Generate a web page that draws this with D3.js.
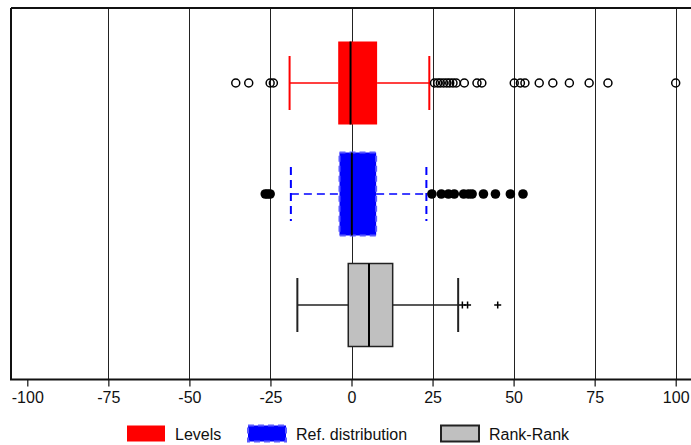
<!DOCTYPE html>
<html><head><meta charset="utf-8">
<script src="https://cdn.jsdelivr.net/npm/d3@7"></script>
<style>body{margin:0;background:#fff}svg{display:block;font-family:"Liberation Sans",Arial,sans-serif}</style>
</head><body><svg id="c" width="691" height="445"></svg>
<script>
const categories = ["Levels", "Ref. distribution", "Rank-Rank"];
const whiskerLow  = [-19.1, -18.7, -16.7];
const q1          = [-4.1, -3.7, -1.0];
const medians     = [-0.3, 0.1, 5.4];
const q3          = [7.9, 7.6, 12.7];
const whiskerHigh = [24.0, 23.1, 32.9];
const outliersLevels = [-35.7, -31.7, -25.1, -24.1, 25.6, 26.6, 27.4, 28.4, 29.4, 30.3, 31.3, 32.3, 34.8, 38.7, 40.2, 50.2, 52.1, 53.5, 57.9, 62.1, 67.2, 73.3, 79.1, 100.0];
const outliersRef = [-26.6, -25.9, -25.1, 24.8, 27.7, 29.9, 31.7, 34.6, 36.1, 37.2, 40.7, 44.4, 49.0, 52.9];
const outliersRank = [34.2, 35.8, 45.1];
const xTicks = [-100, -75, -50, -25, 0, 25, 50, 75, 100];
const gridVals = [-75, -50, -25, 0, 25, 50, 75, 100];

const svg = d3.select("#c");
const x = d3.scaleLinear().domain([-100, 100]).range([27.3, 675.7]);
const y = d3.scalePoint().domain(categories).range([83, 305]);
const plotTop = 8, plotBottom = 379.5, plotLeft = 11;
const boxH = 83, capH = 27;

// grid
svg.append("g").selectAll("line").data(gridVals).join("line")
  .attr("x1", d => Math.round(x(d)) + 0.5).attr("x2", d => Math.round(x(d)) + 0.5)
  .attr("y1", plotTop).attr("y2", plotBottom).attr("stroke", "#222").attr("stroke-width", 1);

// frame
svg.append("line").attr("x1", plotLeft).attr("x2", 691).attr("y1", plotTop).attr("y2", plotTop).attr("stroke", "#111").attr("stroke-width", 2);
svg.append("line").attr("x1", plotLeft).attr("x2", plotLeft).attr("y1", plotTop).attr("y2", plotBottom).attr("stroke", "#111").attr("stroke-width", 2);

const styles = [
  {fill: "#ff0000", stroke: "none", sw: 0, dash: null, wcol: "#ff0000", wdash: null},
  {fill: "#0000ff", stroke: "#5a5aff", sw: 2, dash: "6,4", wcol: "#0000ff", wdash: "8,5"},
  {fill: "#c0c0c0", stroke: "#222", sw: 1.5, dash: null, wcol: "#222", wdash: null}
];

categories.forEach((c, i) => {
  const cy = y(c), s = styles[i];
  const g = svg.append("g");
  const wl = (x1, x2) => g.append("line").attr("x1", x1).attr("x2", x2).attr("y1", cy).attr("y2", cy)
      .attr("stroke", s.wcol).attr("stroke-width", 1.5).attr("stroke-dasharray", s.wdash);
  wl(x(whiskerLow[i]), x(q1[i]));
  wl(x(q3[i]), x(whiskerHigh[i]));
  [whiskerLow[i], whiskerHigh[i]].forEach(v => g.append("line").attr("x1", x(v)).attr("x2", x(v))
      .attr("y1", cy - capH).attr("y2", cy + capH).attr("stroke", s.wcol).attr("stroke-width", 2).attr("stroke-dasharray", s.wdash));
  g.append("rect").attr("x", x(q1[i])).attr("width", x(q3[i]) - x(q1[i]))
    .attr("y", cy - boxH / 2).attr("height", boxH).attr("fill", s.fill)
    .attr("stroke", s.stroke).attr("stroke-width", s.sw).attr("stroke-dasharray", s.dash);
  g.append("line").attr("x1", x(medians[i])).attr("x2", x(medians[i]))
    .attr("y1", cy - boxH / 2).attr("y2", cy + boxH / 2).attr("stroke", "#000").attr("stroke-width", 2);
});

// outliers
svg.append("g").selectAll("circle").data(outliersLevels).join("circle")
  .attr("cx", d => x(d)).attr("cy", y(categories[0])).attr("r", 4)
  .attr("fill", "none").attr("stroke", "#000").attr("stroke-width", 1.5);
svg.append("g").selectAll("circle").data(outliersRef).join("circle")
  .attr("cx", d => x(d)).attr("cy", y(categories[1])).attr("r", 4.8).attr("fill", "#000");
svg.append("g").selectAll("path").data(outliersRank).join("path")
  .attr("d", d => `M${x(d) - 3.5},${y(categories[2])}h7M${x(d)},${y(categories[2]) - 3.5}v7`)
  .attr("stroke", "#000").attr("stroke-width", 1.5);

// axis
const ax = svg.append("g").attr("transform", `translate(0,${plotBottom})`)
  .call(d3.axisBottom(x).tickValues(xTicks).tickSize(7).tickFormat(d3.format("d")));
ax.select(".domain").remove();
ax.selectAll(".tick line").attr("stroke", "#111").attr("stroke-width", 1.2);
ax.selectAll(".tick text").attr("font-size", 16).attr("fill", "#111").attr("dy", "0.85em")
  .attr("font-family", "Liberation Sans, Arial, sans-serif").text(d => d < 0 ? "-" + Math.abs(d) : d);
svg.append("line").attr("x1", plotLeft - 1).attr("x2", 691).attr("y1", plotBottom).attr("y2", plotBottom).attr("stroke", "#111").attr("stroke-width", 2);

// legend
const legX = [127, 248, 441];
const leg = svg.append("g");
categories.forEach((c, i) => {
  const s = styles[i];
  leg.append("rect").attr("x", legX[i]).attr("y", 425.5).attr("width", 38).attr("height", 16)
    .attr("fill", s.fill).attr("stroke", i === 2 ? "#222" : s.stroke).attr("stroke-width", i === 2 ? 2 : s.sw)
    .attr("stroke-dasharray", s.dash);
  leg.append("text").attr("x", legX[i] + 48).attr("y", 439.5).attr("font-size", 16).attr("fill", "#111").text(c);
});
</script></body></html>
